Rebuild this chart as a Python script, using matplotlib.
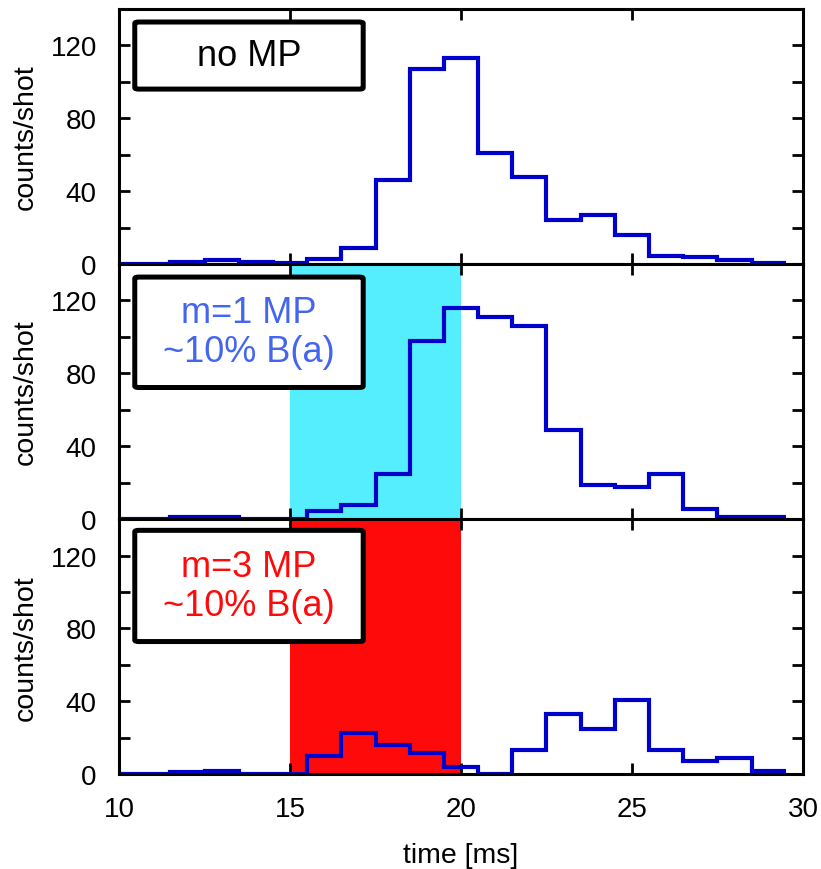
import numpy as np
import matplotlib
matplotlib.use('Agg')
import matplotlib.pyplot as plt
from matplotlib.patches import FancyBboxPatch
from matplotlib.ticker import MultipleLocator, FuncFormatter

plt.rcParams['font.family'] = ['Liberation Sans', 'DejaVu Sans']

# bin centres (ms), 1 ms wide bins
time_ms = [10, 11, 12, 13, 14, 15, 16, 17, 18, 19, 20, 21, 22, 23, 24, 25, 26, 27, 28, 29]
counts_no_mp = [0, 0, 1, 2, 1, 0.5, 3, 9, 46, 107, 113, 61, 48, 24, 27, 16, 4.5, 4, 2, 0.5]
counts_m1 = [0, 0, 1.3, 1.3, 0, 0, 4.5, 8, 25, 98, 116, 111, 106, 49, 18.5, 17.5, 25, 5.5, 1.3, 1]
counts_m3 = [0, 0, 1.2, 2, 0, 0, 10, 22.5, 16, 11.5, 4.2, 0, 13.5, 33, 25, 40.5, 13, 7.5, 9, 1.8]
gate = (15, 20)

panels = [
    (counts_no_mp, 'no MP', 'black', None),
    (counts_m1, 'm=1 MP\n~10% B(a)', '#4466EE', '#55EEFF'),
    (counts_m3, 'm=3 MP\n~10% B(a)', '#FF0A0A', '#FF0A0A'),
]
box_y = [(0.686, 0.949), (0.516, 0.949), (0.52, 0.956)]

centres = np.array(time_ms, dtype=float)
edges = np.append(centres - 0.5, centres[-1] + 0.5)

fig, axes = plt.subplots(3, 1, figsize=(8.21, 8.70), dpi=100, sharex=True)
fig.subplots_adjust(left=0.145, right=0.978, top=0.9885, bottom=0.109, hspace=0)

for ax, (counts, label, tcolor, fill), (y0, y1) in zip(axes, panels, box_y):
    if fill is not None:
        ax.axvspan(gate[0], gate[1], color=fill, lw=0, zorder=0)
    ax.stairs(counts, edges, baseline=None, color='#0000CC', lw=3.0, zorder=2)
    ax.set_xlim(10, 30)
    ax.set_ylim(0, 140)
    ax.yaxis.set_major_locator(MultipleLocator(20))
    ax.yaxis.set_major_formatter(FuncFormatter(lambda v, p: f'{int(v)}' if v % 40 == 0 and v < 140 else ''))
    ax.xaxis.set_major_locator(MultipleLocator(5))
    ax.tick_params(direction='in', length=8, width=2, top=True, right=True, labelsize=20)
    ax.tick_params(axis='y', pad=16)
    ax.tick_params(axis='x', pad=16)
    for sp in ax.spines.values():
        sp.set_linewidth(2.2)
        sp.set_zorder(5)
    ax.set_ylabel('counts/shot', fontsize=20.5)
    ax.yaxis.set_label_coords(-0.118, 0.5)

    box = FancyBboxPatch((0.023, y0), 0.334, y1 - y0, boxstyle='round,pad=0,rounding_size=0.006',
                         transform=ax.transAxes, facecolor='white', edgecolor='black', lw=3.6, zorder=6)
    ax.add_patch(box)
    ax.text(0.19, (y0 + y1) / 2, label, transform=ax.transAxes, ha='center', va='center',
            fontsize=26, color=tcolor, linespacing=1.15, zorder=7)

axes[-1].set_xlabel('time [ms]', fontsize=20.5, labelpad=14)

plt.savefig('out.png', dpi=100)
